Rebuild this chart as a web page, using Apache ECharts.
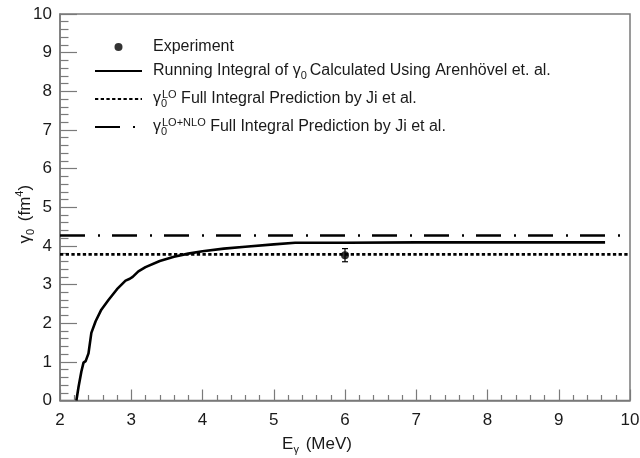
<!DOCTYPE html>
<html><head><meta charset="utf-8">
<script src="https://cdn.jsdelivr.net/npm/echarts@6/dist/echarts.min.js"></script>
<style>html,body{margin:0;padding:0;background:#fff}#c{width:640px;height:458px}</style>
</head><body><div id="c"></div>
<script>
// Running integral curve (Arenhövel)
const curveX = [2.23, 2.26, 2.30, 2.33, 2.36, 2.40, 2.44, 2.50, 2.58, 2.68, 2.80, 2.92, 2.98, 3.02, 3.10, 3.20, 3.40, 3.60, 3.80, 4.00, 4.30, 4.60, 5.00, 5.30, 6.00, 7.00, 8.00, 9.00, 9.65];
const curveY = [0.00, 0.35, 0.75, 0.98, 1.02, 1.22, 1.75, 2.05, 2.35, 2.60, 2.88, 3.10, 3.15, 3.20, 3.34, 3.45, 3.61, 3.72, 3.80, 3.86, 3.93, 3.98, 4.04, 4.08, 4.08, 4.09, 4.09, 4.09, 4.09];
// Ji et al. predictions
const loValue = 3.78;
const nloValue = 4.27;
const predX = [2, 10];
// Experiment
const expX = [6];
const expY = [3.76];
const expErr = [0.17];
// Axes
const xTicks = [2, 3, 4, 5, 6, 7, 8, 9, 10];
const yTicks = [0, 1, 2, 3, 4, 5, 6, 7, 8, 9, 10];

const FONT = '"Liberation Sans", Arial, sans-serif';
const TXT = '#1a1a1a';
const AX = '#7a7a7a';

const names = ['Experiment', 'Running', 'LO', 'NLO'];
const legendText = {
  Experiment: 'Experiment',
  Running: 'Running Integral of {g|γ}{sub|0}Calculated Using Arenhövel et. al.',
  LO: '{g|γ}{subz|0}{sup|LO} Full Integral Prediction by Ji et al.',
  NLO: '{g|γ}{subz|0}{sup|LO+NLO} Full Integral Prediction by Ji et al.'
};

const chart = echarts.init(document.getElementById('c'), null, {renderer: 'canvas'});
const option = {
  animation: false,
  backgroundColor: '#fff',
  textStyle: {fontFamily: FONT, color: TXT},
  grid: {left: 60, right: 10, top: 14, bottom: 57.5, containLabel: false, outerBoundsMode: 'none',
    show: true, borderColor: AX, borderWidth: 1.5, backgroundColor: 'transparent'},
  legend: {
    orient: 'vertical', left: 89, top: 34,
    itemWidth: 47, itemHeight: 8, itemGap: 8,
    data: names,
    formatter: n => legendText[n],
    textStyle: {
      fontFamily: FONT, fontSize: 16, color: TXT, padding: [0, 0, 0, 6],
      rich: {
        g: {fontFamily: FONT, fontSize: 16, color: TXT, lineHeight: 20},
        sub: {fontFamily: FONT, fontSize: 11, color: TXT, lineHeight: 10, verticalAlign: 'bottom', padding: [0, 3, 0, 0]},
        subz: {fontFamily: FONT, fontSize: 11, color: TXT, lineHeight: 10, verticalAlign: 'bottom', width: 1, align: 'left'},
        sup: {fontFamily: FONT, fontSize: 11, color: TXT, lineHeight: 10, verticalAlign: 'top'}
      }
    }
  },
  xAxis: {
    type: 'value', min: 2, max: 10, interval: 1,
    name: '{n|E}{s|γ} (MeV)', nameLocation: 'middle', nameGap: 33, nameMoveOverlap: false,
    nameTextStyle: {fontFamily: FONT, fontSize: 17, color: TXT, padding: [0, 56, 0, 0],
      rich: {n: {fontFamily: FONT, fontSize: 17, color: TXT, lineHeight: 22},
             s: {fontFamily: FONT, fontSize: 11, color: TXT, lineHeight: 9, verticalAlign: 'bottom', padding: [0, 2, 0, 0]}}},
    axisLine: {show: true, lineStyle: {color: AX, width: 1.5}},
    axisTick: {show: true, inside: true, length: 11, lineStyle: {color: AX, width: 1.2}},
    minorTick: {show: true, splitNumber: 5, length: 5.5, lineStyle: {color: AX, width: 1.2}},
    axisLabel: {fontFamily: FONT, fontSize: 17, color: TXT, margin: 11,
      customValues: xTicks},
    splitLine: {show: false}
  },
  yAxis: {
    type: 'value', min: 0, max: 10, interval: 1,
    name: '{g|γ}{s|0} (fm{p|4})', nameLocation: 'middle', nameGap: 24, nameRotate: 90, nameMoveOverlap: false,
    nameTextStyle: {fontFamily: FONT, fontSize: 17, color: TXT, padding: [0, 14, 0, 0],
      rich: {g: {fontFamily: FONT, fontSize: 17, color: TXT, lineHeight: 22},
             s: {fontFamily: FONT, fontSize: 11, color: TXT, lineHeight: 9, verticalAlign: 'bottom', padding: [0, 3, 0, 0]},
             p: {fontFamily: FONT, fontSize: 11, color: TXT, lineHeight: 9, verticalAlign: 'top'}}},
    axisLine: {show: true, lineStyle: {color: AX, width: 1.5}},
    axisTick: {show: true, inside: true, length: 17, lineStyle: {color: AX, width: 1.2}},
    minorTick: {show: true, splitNumber: 5, length: 8.5, lineStyle: {color: AX, width: 1.2}},
    axisLabel: {fontFamily: FONT, fontSize: 17, color: TXT, margin: 8, customValues: yTicks},
    splitLine: {show: false}
  },
  series: [
    {
      name: 'Experiment', type: 'scatter', symbol: 'circle', symbolSize: 8,
      itemStyle: {color: '#000'}, z: 5,
      data: expX.map((x, i) => [x, expY[i]])
    },
    {
      name: 'ExpErr', type: 'custom', z: 4,
      data: expX.map((x, i) => [x, expY[i] - expErr[i], expY[i] + expErr[i]]),
      renderItem: (params, api) => {
        const lo = api.coord([api.value(0), api.value(1)]);
        const hi = api.coord([api.value(0), api.value(2)]);
        const st = {stroke: '#000', lineWidth: 1.2};
        return {type: 'group', children: [
          {type: 'line', shape: {x1: lo[0], y1: lo[1], x2: hi[0], y2: hi[1]}, style: st},
          {type: 'line', shape: {x1: lo[0] - 3, y1: lo[1], x2: lo[0] + 3, y2: lo[1]}, style: st},
          {type: 'line', shape: {x1: hi[0] - 3, y1: hi[1], x2: hi[0] + 3, y2: hi[1]}, style: st}
        ]};
      }
    },
    {
      name: 'Running', type: 'line', symbol: 'none', z: 3,
      itemStyle: {color: 'rgba(0,0,0,0)', borderWidth: 0},
      lineStyle: {color: '#000', width: 2.6},
      data: curveX.map((x, i) => [x, curveY[i]])
    },
    {
      name: 'LO', type: 'line', symbol: 'none', z: 2,
      itemStyle: {color: 'rgba(0,0,0,0)', borderWidth: 0},
      lineStyle: {color: '#000', width: 2.6, type: [3.3, 2.4]},
      data: predX.map(x => [x, loValue])
    },
    {
      name: 'NLO', type: 'line', symbol: 'none', z: 2,
      itemStyle: {color: 'rgba(0,0,0,0)', borderWidth: 0},
      lineStyle: {color: '#000', width: 2.6, type: [25, 13, 2, 12]},
      data: predX.map(x => [x, nloValue])
    }
  ]
};
chart.setOption(option);
</script></body></html>
